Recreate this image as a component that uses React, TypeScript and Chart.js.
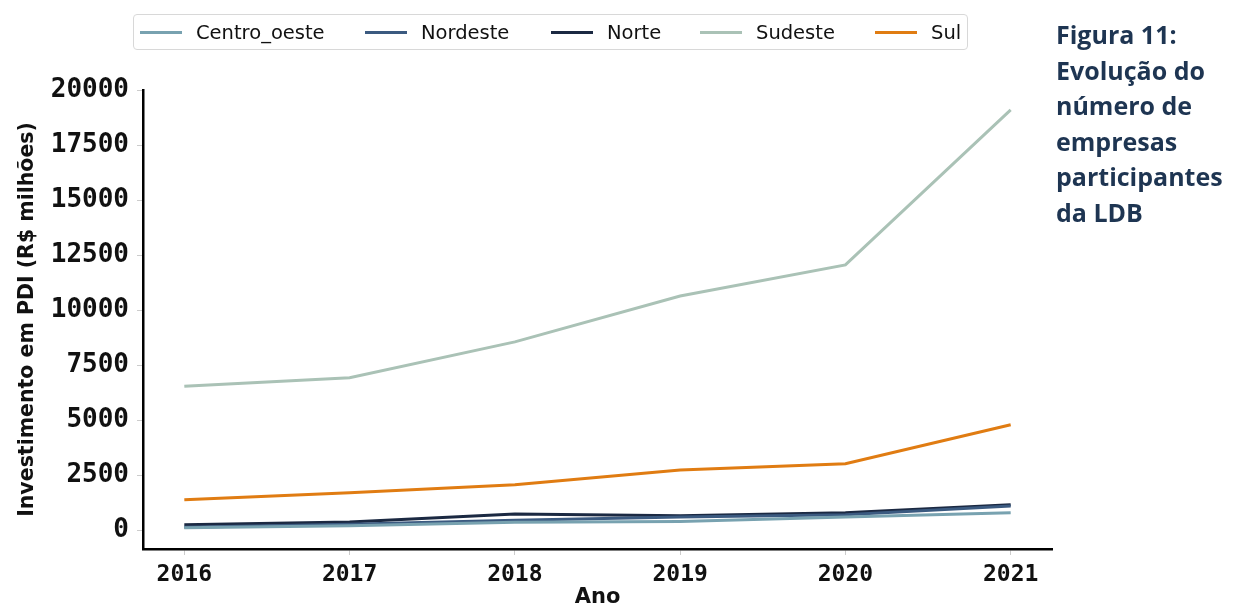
import React, { useEffect, useRef } from "react";
import { Chart, registerables } from "chart.js";

Chart.register(...registerables);

const years = [2016, 2017, 2018, 2019, 2020, 2021];
const centroOeste = [140, 230, 380, 420, 620, 820];
const nordeste = [160, 290, 480, 620, 720, 1120];
const norte = [270, 400, 760, 680, 815, 1180];
const sudeste = [6560, 6940, 8570, 10650, 12060, 19100];
const sul = [1400, 1720, 2090, 2760, 3040, 4810];
const yTicks = [0, 2500, 5000, 7500, 10000, 12500, 15000, 17500, 20000];

const seriesNames = ["Centro_oeste", "Nordeste", "Norte", "Sudeste", "Sul"];
const seriesColors = ["#78a2b0", "#3b5a80", "#1b2942", "#aac2b6", "#e07c12"];
const seriesValues = [centroOeste, nordeste, norte, sudeste, sul];

const legendX = [140, 365, 551, 700, 875];

export default function App() {
  const ref = useRef<HTMLCanvasElement | null>(null);
  useEffect(() => {
    if (!ref.current) return;
    const chart = new Chart(ref.current, {
      type: "line",
      data: {
        datasets: seriesNames.map((n, i) => ({
          label: n,
          data: years.map((y, j) => ({ x: y, y: seriesValues[i][j] })),
          borderColor: seriesColors[i],
          backgroundColor: seriesColors[i],
          borderWidth: 3,
          pointRadius: 0,
          tension: 0,
        })),
      },
      options: {
        animation: false,
        responsive: false,
        layout: { padding: { top: 90, right: 10, left: 15, bottom: 0 } },
        plugins: { legend: { display: false }, tooltip: { enabled: false } },
        scales: {
          x: {
            type: "linear",
            min: 2015.75,
            max: 2021.25,
            afterBuildTicks: (s: any) => {
              s.ticks = years.map((v) => ({ value: v }));
            },
            afterFit: (s: any) => {
              s.height = 61;
            },
            ticks: {
              callback: (v: any) => String(v),
              color: "#111",
              font: { family: "DejaVu Sans Mono", weight: "bold", size: 23 },
              padding: 6,
              maxRotation: 0,
            },
            grid: { drawOnChartArea: false, drawTicks: true, tickLength: 6, color: "#cccccc" },
            border: { display: true, color: "#000", width: 2.5 },
            title: {
              display: true,
              text: "Ano",
              color: "#111",
              font: { family: "DejaVu Sans", weight: "bold", size: 21 },
              padding: { top: 0, bottom: 0 },
            },
          },
          y: {
            type: "linear",
            min: -830,
            max: 20000,
            afterBuildTicks: (s: any) => {
              s.ticks = yTicks.map((v) => ({ value: v }));
            },
            afterFit: (s: any) => {
              s.width = 128;
            },
            ticks: {
              callback: (v: any) => String(v),
              color: "#111",
              font: { family: "DejaVu Sans Mono", weight: "bold", size: 26 },
              padding: 8,
            },
            grid: { drawOnChartArea: false, drawTicks: true, tickLength: 6, color: "#cccccc" },
            border: { display: true, color: "#000", width: 2.5 },
            title: {
              display: true,
              text: "Investimento em PDI (R$ milhões)",
              color: "#111",
              font: { family: "DejaVu Sans", weight: "bold", size: 20.5 },
              padding: { top: 0, bottom: 4 },
            },
          },
        },
      },
    });
    return () => chart.destroy();
  }, []);

  return (
    <div style={{ position: "absolute", left: 0, top: 0, width: 1242, height: 610, background: "#fff", overflow: "hidden" }}>
      <canvas ref={ref} width={1062} height={610} style={{ position: "absolute", left: 0, top: 0 }} />
      <div
        style={{
          position: "absolute",
          left: 133,
          top: 14,
          width: 835,
          height: 36,
          border: "1.5px solid #d8d8d8",
          borderRadius: 4,
          boxSizing: "border-box",
        }}
      />
      {seriesNames.map((n, i) => (
        <div key={n} style={{ position: "absolute", left: legendX[i], top: 18, height: 28, display: "flex", alignItems: "center" }}>
          <div style={{ width: 42, height: 3, background: seriesColors[i] }} />
          <span style={{ marginLeft: 14, fontFamily: "DejaVu Sans", fontSize: 19.5, color: "#111", whiteSpace: "nowrap" }}>{n}</span>
        </div>
      ))}
      <div
        style={{
          position: "absolute",
          left: 1056,
          top: 17,
          width: 190,
          fontFamily: "'Open Sans'",
          fontWeight: 700,
          fontSize: 25,
          lineHeight: "35.5px",
          color: "#1e3552",
          whiteSpace: "nowrap",
        }}
      >
        Figura 11:
        <br />
        Evolução do
        <br />
        número de
        <br />
        empresas
        <br />
        participantes
        <br />
        da LDB
      </div>
    </div>
  );
}
